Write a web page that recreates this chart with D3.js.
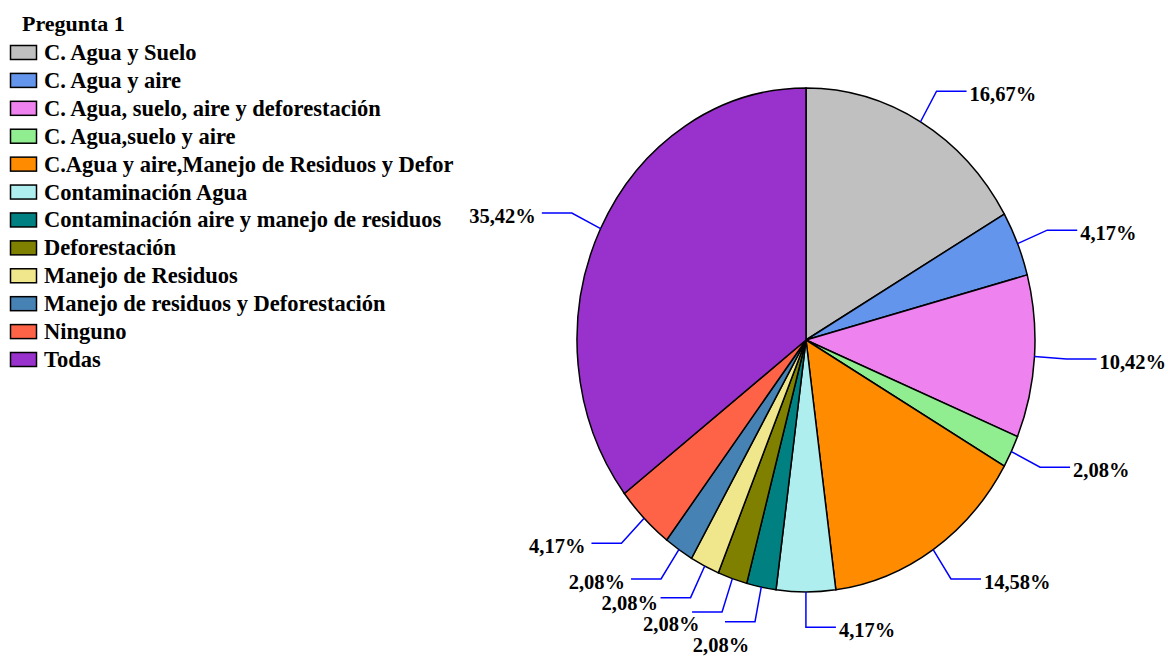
<!DOCTYPE html>
<html><head><meta charset="utf-8">
<script src="https://cdn.jsdelivr.net/npm/d3@7"></script>
<style>
html,body{margin:0;padding:0;background:#fff;}
svg{display:block;}
text{font-family:"Liberation Serif","Times New Roman",serif;font-weight:bold;fill:#000;}
</style></head>
<body>
<svg id="chart" width="1168" height="656"></svg>
<script>
const title = "Pregunta 1";
const categories = [
  "C. Agua y Suelo",
  "C. Agua y aire",
  "C. Agua, suelo, aire y deforestación",
  "C. Agua,suelo y aire",
  "C.Agua y aire,Manejo de Residuos y Defor",
  "Contaminación Agua",
  "Contaminación aire y manejo de residuos",
  "Deforestación",
  "Manejo de Residuos",
  "Manejo de residuos y Deforestación",
  "Ninguno",
  "Todas"
];
const values = [16.67, 4.17, 10.42, 2.08, 14.58, 4.17, 2.08, 2.08, 2.08, 2.08, 4.17, 35.42];
const colors = ["#C0C0C0", "#6495ED", "#EE82EE", "#90EE90", "#FF8C00", "#AFEEEE",
                "#008080", "#808000", "#F0E68C", "#4682B4", "#FF6347", "#9932CC"];

const svg = d3.select("#chart");
const cx = 806, cy = 340, rx = 229, ry = 252;
const sy = ry / rx;

const data = categories.map((c, i) => ({cat: c, value: values[i], color: colors[i]}));
const pie = d3.pie().value(d => d.value).sort(null);
const arcs = pie(data);
const arc = d3.arc().innerRadius(0).outerRadius(rx);

const g = svg.append("g").attr("transform", `translate(${cx},${cy}) scale(1,${sy})`);
g.selectAll("path").data(arcs).join("path")
  .attr("d", arc)
  .attr("fill", d => d.data.color)
  .attr("stroke", "#000")
  .attr("stroke-width", 1.5)
  .attr("vector-effect", "non-scaling-stroke");

// labels with leader lines
const fmt = v => d3.format(".2f")(v).replace(".", ",") + "%";
const pt = (a, k) => [cx + Math.sin(a) * rx * k, cy - Math.cos(a) * ry * k];
const lab = arcs.map(d => {
  const a = (d.startAngle + d.endAngle) / 2;
  const right = a <= Math.PI + 0.01;
  const p0 = pt(a, 1), p1 = pt(a, 1.14);
  const p2 = [p1[0] + (right ? 30 : -30), p1[1]];
  return {d, a, right, p0, p1, p2, ty: p1[1] + 3, tx: p2[0] + (right ? 3 : -6)};
});
// simple overlap avoidance on each side
[true, false].forEach(side => {
  const arr = lab.filter(l => l.right === side).sort((a, b) => a.ty - b.ty);
  for (let i = 1; i < arr.length; i++) {
    const minY = arr[i - 1].ty + 21;
    if (arr[i].ty < minY) {
      const push = minY - arr[i].ty;
      arr[i].ty = minY;
      arr[i].tx += side ? -push * 1.5 : push * 1.5;
    }
  }
});

const lg = svg.append("g");
lg.selectAll("polyline").data(lab).join("polyline")
  .attr("points", l => [l.p0, l.p1, l.p2].map(p => p.join(",")).join(" "))
  .attr("fill", "none")
  .attr("stroke", "#0000FF")
  .attr("stroke-width", 1.5);
lg.selectAll("text").data(lab).join("text")
  .attr("x", l => l.tx)
  .attr("y", l => l.ty)
  .attr("text-anchor", l => l.right ? "start" : "end")
  .attr("dominant-baseline", "central")
  .style("font-size", "20.5px")
  .text(l => fmt(l.d.data.value));

// legend
const leg = svg.append("g");
leg.append("text").attr("x", 22).attr("y", 31).style("font-size", "22px").text(title);
const rowY = d3.scalePoint().domain(categories).range([60, 367]);
const rows = leg.selectAll("g.row").data(data).join("g").attr("class", "row")
  .attr("transform", d => `translate(0,${rowY(d.cat)})`);
rows.append("rect").attr("x", 10.5).attr("y", -14.5).attr("width", 26).attr("height", 14)
  .attr("fill", d => d.color).attr("stroke", "#000").attr("stroke-width", 1.5);
rows.append("text").attr("x", 44).attr("y", 0).style("font-size", "22.5px").text(d => d.cat);
</script>
</body></html>
